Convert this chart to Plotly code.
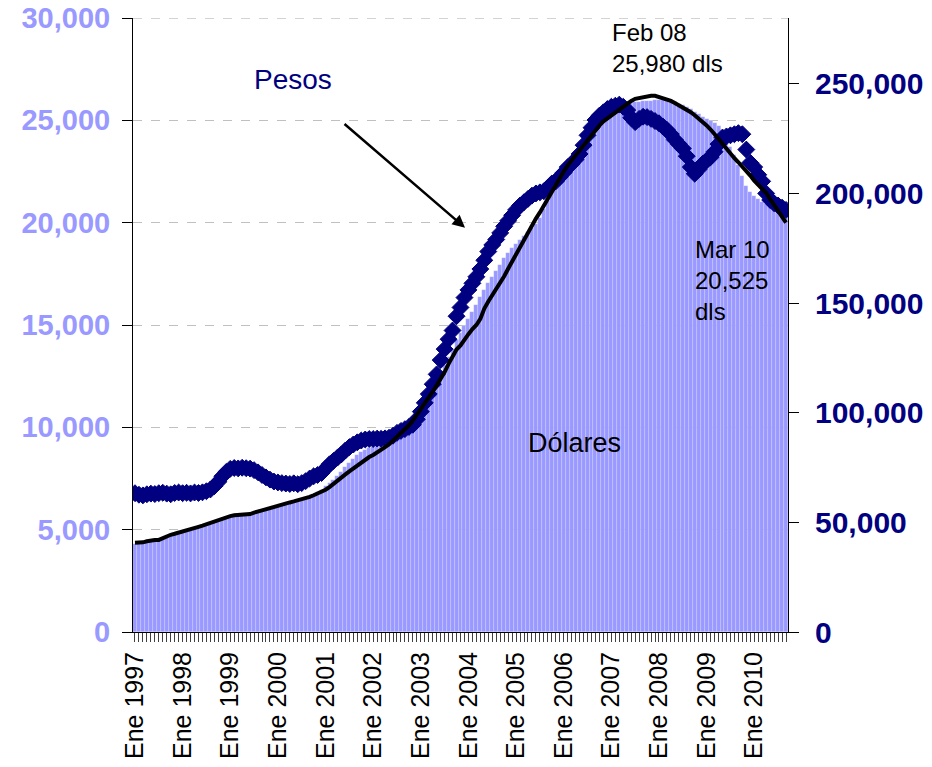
import plotly.graph_objects as go

# categories: one per month, labels only on January
meses = []
for anio in range(1997, 2011):
    for m in range(1, 13):
        meses.append(f"{anio}-{m:02d}")
meses = meses[:165]
etiquetas = ["Ene " + c[:4] if c.endswith("-01") else "" for c in meses]

# dolares (bars, left axis)
dolares = [
    4300, 4320, 4350, 4400, 4440, 4460, 4480, 4560, 4640, 4700, 4760, 4820,
    4880, 4940, 5000, 5060, 5120, 5180, 5240, 5300, 5360, 5420, 5490, 5560,
    5620, 5660, 5690, 5700, 5720, 5750, 5810, 5870, 5930, 5990, 6040, 6100,
    6170, 6220, 6260, 6300, 6350, 6400, 6460, 6520, 6600, 6700, 6820, 6950,
    7150, 7300, 7450, 7600, 7800, 8050, 8250, 8450, 8650, 8800, 8900, 9000,
    9050, 9100, 9200, 9300, 9400, 9500, 9600, 9700, 9900, 10150, 10450, 10800,
    11050, 11400, 11700, 12000, 12350, 12700, 13050, 13450, 13850, 14250, 14600, 14950,
    15300, 15650, 16000, 16350, 16700, 17050, 17350, 17650, 17950, 18250, 18500, 18750,
    18950, 19150, 19350, 19550, 19750, 19950, 20250, 20650, 21050, 21450, 21850, 22200,
    22550, 22850, 23150, 23450, 23750, 24050, 24350, 24650, 24950, 25200, 25450, 25600,
    25650, 25700, 25750, 25800, 25850, 25880, 25900, 25920, 25940, 25950, 25960, 25970,
    25975, 25980, 25960, 25930, 25880, 25820, 25740, 25650, 25550, 25430, 25300, 25170,
    25050, 24950, 24850, 24700, 24450, 24100, 23700, 23300, 22800, 22300, 21800, 21500,
    21300, 21150, 21000, 20900, 20800, 20700, 20650, 20580, 20525,
]

# trend line (left axis)
tendencia = [
    4360, 4360, 4380, 4430, 4470, 4490, 4500, 4600, 4680, 4750, 4800, 4850,
    4900, 4960, 5020, 5080, 5140, 5200, 5270, 5330, 5390, 5450, 5520, 5600,
    5660, 5700, 5720, 5730, 5740, 5760, 5830, 5890, 5950, 6010, 6060, 6120,
    6200, 6250, 6290, 6330, 6380, 6430, 6480, 6540, 6600, 6680, 6760, 6850,
    6950, 7080, 7250, 7400, 7550, 7700, 7850, 8000, 8120, 8250, 8400, 8550,
    8650, 8760, 8900, 9030, 9170, 9350, 9530, 9720, 9900, 10100, 10330, 10600,
    10900, 11200, 11450, 11750, 12050, 12350, 12700, 13100, 13500, 13800, 14000, 14300,
    14550, 14800, 15000, 15300, 15800, 16150, 16450, 16750, 17050, 17380, 17750, 18100,
    18450, 18850, 19250, 19600, 19900, 20200, 20500, 20850, 21200, 21550, 21900, 22200,
    22500, 22800, 23050, 23300, 23550, 23800, 24050, 24300, 24550, 24750, 24950, 25100,
    25250, 25400, 25520, 25650, 25800, 25950, 26050, 26100, 26150, 26180, 26200, 26200,
    26150, 26100, 26050, 25950, 25850, 25750, 25650, 25550, 25400, 25250, 25100, 24950,
    24750, 24550, 24350, 24100, 23850, 23600, 23400, 23150, 22950, 22750, 22550, 22300,
    22050, 21850, 21650, 21450, 21150, 20850, 20550, 20300, 20000,
]

# pesos (diamonds, right axis)
pesos = [
    63300, 62600, 62300, 62800, 63100, 62900, 63300, 63500, 63100, 62800, 63400, 63600,
    63300, 63500, 63200, 63600, 63400, 63700, 64200, 65000, 66500, 68500, 71000, 73000,
    74400, 74800, 74600, 74900, 74700, 74500, 73800, 72800, 71600, 70500, 69500, 68600,
    68200, 67900, 67700, 67500, 67800, 67400, 67900, 68800, 70000, 71000, 71600, 72500,
    74500, 76500, 78000, 79500, 81000, 82800, 84300, 85500, 86500, 87300, 87800, 88000,
    88000, 88200, 88100, 88300, 88600, 89500, 90800, 91700, 92500, 93500, 94500, 97000,
    100500, 104500, 108500, 113000, 117500, 124000, 129000, 133500, 137500, 144000, 148000, 152500,
    156000, 159000, 162000, 165500, 169500, 173500, 176500, 179000, 182000, 185000, 187500, 190000,
    192500, 194500, 196000, 197500, 199000, 200000, 200500, 201000, 202500, 204500, 205500, 207500,
    209500, 212000, 213500, 215500, 218000, 222000, 226500, 230000, 233500, 235500, 237000, 238500,
    239500, 240000, 240500, 239500, 238000, 234500, 232500, 234000, 235000, 234800, 234000, 233000,
    232000, 230500, 229000, 227000, 224500, 222500, 220500, 217000, 212000, 209000, 211000, 213500,
    215000, 216500, 219000, 222500, 225500, 226000, 226500, 227000, 227500, 227000, 220000, 214000,
    212000, 208500, 205500, 200000, 197000, 195500, 194500, 193500, 192500,
]

fuente = "Liberation Sans, Arial, sans-serif"
azul = "#000080"
lila = "#9999FF"

fig = go.Figure()
fig.add_trace(go.Bar(x=meses, y=dolares, marker=dict(color=lila, line=dict(color="rgba(255,255,255,0.35)", width=0.5)),
                     yaxis="y", showlegend=False))
fig.add_trace(go.Scatter(x=meses, y=pesos, mode="markers", yaxis="y2", showlegend=False,
                         marker=dict(symbol="diamond", size=13, color=azul, line=dict(color=azul, width=1))))
fig.add_trace(go.Scatter(x=meses, y=tendencia, mode="lines", yaxis="y3", showlegend=False,
                         line=dict(color="black", width=4)))

# page body has an 8px margin, so the figure is shrunk by that much
fig.update_layout(
    width=924, height=759,
    margin=dict(l=125, r=144, t=10, b=135),
    plot_bgcolor="white", paper_bgcolor="white",
    font=dict(family=fuente, color="black"),
    bargap=0,
    xaxis=dict(type="category", range=[-0.5, len(meses) - 0.5], tickmode="array", tickvals=meses,
               ticktext=etiquetas, tickangle=-90, tickfont=dict(size=25, color="black"),
               ticks="outside", ticklen=9, tickwidth=1, tickcolor="#404040", showline=True,
               linecolor="black", linewidth=1, showgrid=False, automargin=False,
               ticklabelstandoff=0, ticklabeloverflow="allow"),
    yaxis=dict(range=[0, 30000], dtick=5000, tickformat=",", showline=True, linecolor="black",
               linewidth=1, ticks="outside", ticklen=10, tickcolor="black", showgrid=True,
               gridcolor="#C0C0C0", griddash="dash", gridwidth=1, zeroline=False,
               tickfont=dict(size=29, color=lila, weight="bold"),
               automargin=False, ticklabelstandoff=6, ticklabeloverflow="allow"),
    yaxis2=dict(range=[0, 280000], dtick=50000, tickformat=",", overlaying="y", side="right",
                showline=True, linecolor="black", linewidth=1, ticks="outside", ticklen=10,
                tickcolor="black", showgrid=False, zeroline=False,
                tickfont=dict(size=30, color=azul, weight="bold"),
                automargin=False, ticklabelstandoff=10, ticklabeloverflow="allow"),
    yaxis3=dict(range=[0, 30000], overlaying="y", visible=False),
)

# dashed gridline along the top of the plot
fig.add_shape(type="line", xref="paper", x0=0, x1=1, yref="y", y0=29990, y1=29990,
              line=dict(color="#C0C0C0", width=1, dash="dash"), layer="below")

fig.add_annotation(xref="paper", yref="paper", x=0.245, y=0.9, text="Pesos", showarrow=False,
                   font=dict(size=28, color=azul), xanchor="center", yanchor="middle")
fig.add_annotation(xref="paper", yref="paper", x=0.5069, y=0.6584, text="", showarrow=True,
                   ax=-122, ay=-105, arrowhead=2, arrowsize=1, arrowwidth=2.5, arrowcolor="black")
fig.add_annotation(xref="paper", yref="paper", x=0.7282, y=0.9505, text="Feb 08<br>25,980 dls",
                   showarrow=False, align="left", xanchor="left", yanchor="middle",
                   font=dict(size=24, color="black"))
fig.add_annotation(xref="paper", yref="paper", x=0.855, y=0.5726, text="Mar 10<br>20,525<br>dls",
                   showarrow=False, align="left", xanchor="left", yanchor="middle",
                   font=dict(size=24, color="black"))
fig.add_annotation(xref="paper", yref="paper", x=0.6748, y=0.3086, text="Dólares",
                   showarrow=False, xanchor="center", yanchor="middle",
                   font=dict(size=27, color="black"))

fig.write_html("out.html")
